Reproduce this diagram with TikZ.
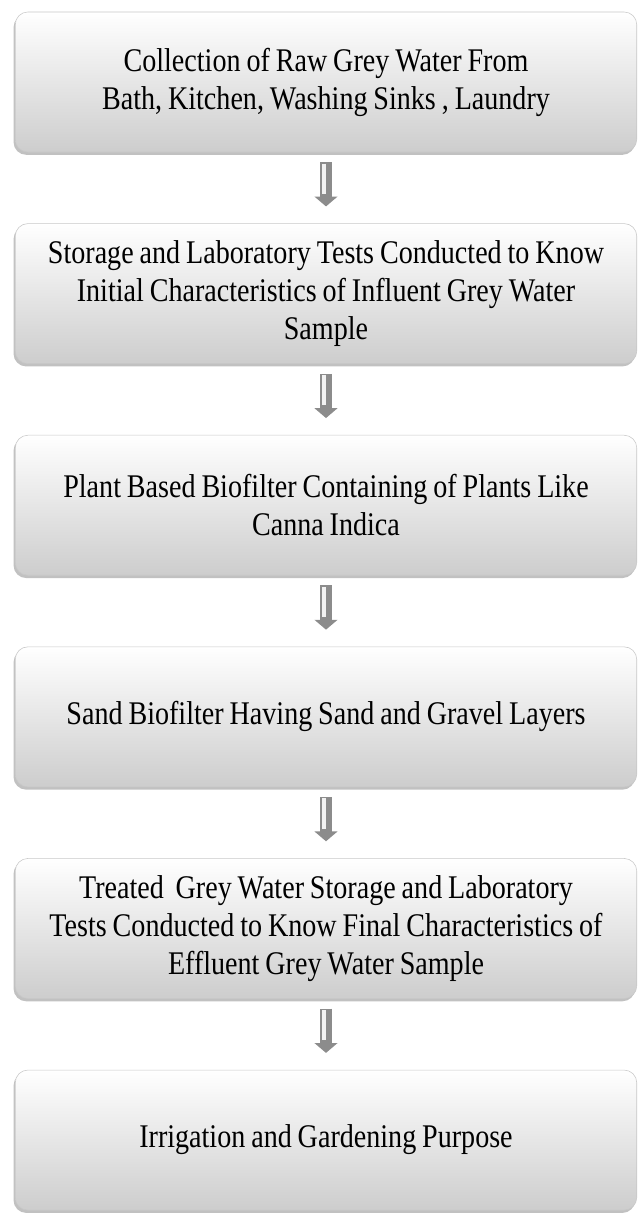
\documentclass[tikz,border=0pt]{standalone}
\usepackage{fontspec}
\setmainfont{Liberation Serif}[FakeStretch=0.85]
\usetikzlibrary{arrows.meta,positioning,shadows}
\definecolor{boxline}{RGB}{200,200,200}
\definecolor{boxshade}{RGB}{205,205,205}
\definecolor{arrowgrey}{RGB}{140,140,140}

\begin{document}
\begin{tikzpicture}[x=0.025cm,y=-0.025cm,line join=round,node distance=1.775cm,
 stage/.style={rectangle,rounded corners=9pt,draw=boxline,top color=white,bottom color=boxshade,
  minimum width=15.5cm,minimum height=3.5cm,text width=15.3cm,align=center,
  font=\fontsize{23.5}{27}\selectfont,
  execute at begin node={\spaceskip=4.2pt\relax},
  drop shadow={shadow xshift=-1.2pt,shadow yshift=-2pt,fill=gray!60,opacity=.8}},
 flow/.style={line width=8.5pt,arrowgrey,-{Triangle[length=7pt,width=16pt]},shorten <=7pt,shorten >=12pt}]
 \useasboundingbox (0,0) rectangle (640,1214);
 \node[stage] (s1) at (326,82) {Collection of Raw Grey Water From\\Bath, Kitchen, Washing Sinks , Laundry};
 \node[stage,below=of s1] (s2) {Storage and Laboratory Tests Conducted to Know\\Initial Characteristics of Influent Grey Water\\Sample};
 \node[stage,below=of s2] (s3) {Plant Based Biofilter Containing of Plants Like\\Canna Indica};
 \node[stage,below=of s3] (s4) {Sand Biofilter Having Sand and Gravel Layers};
 \node[stage,below=of s4] (s5) {Treated\ \ Grey Water Storage and Laboratory\\Tests Conducted to Know Final Characteristics of\\Effluent Grey Water Sample};
 \node[stage,below=of s5] (s6) {Irrigation and Gardening Purpose};
 \foreach \a/\b in {s1/s2,s2/s3,s3/s4,s4/s5,s5/s6}
  {\draw[flow] (\a) -- (\b);
   \draw[white!90!gray,line width=3pt,shorten <=8pt,shorten >=21pt] ([xshift=-1.5pt]\a.south) -- ([xshift=-1.5pt]\b.north);}
\end{tikzpicture}
\end{document}
